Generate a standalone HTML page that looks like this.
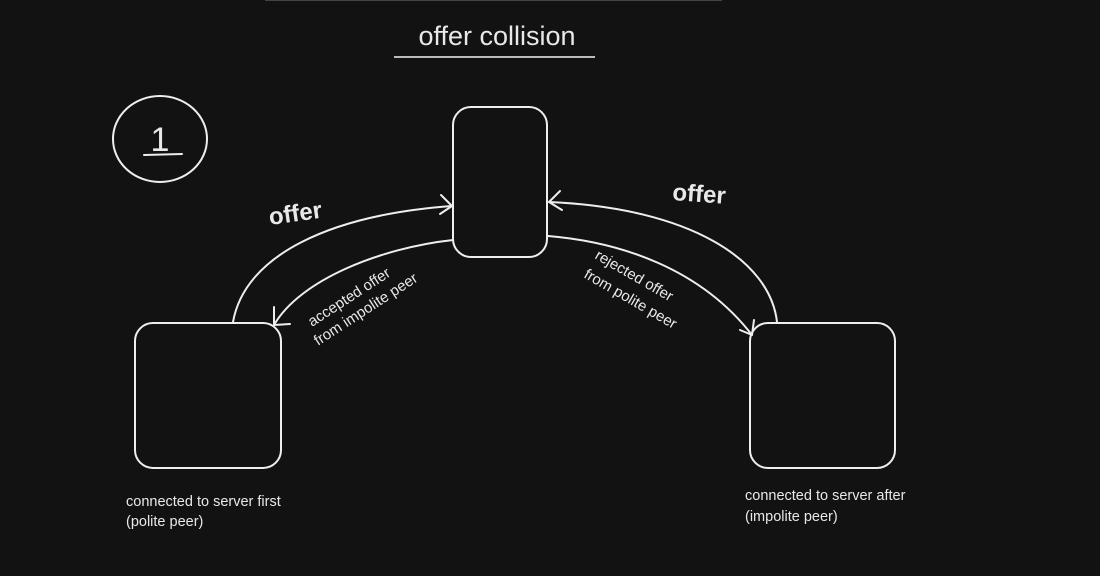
<!DOCTYPE html>
<html><head><style>
html,body{margin:0;padding:0;background:#121212;}
svg{display:block;}
text{font-family:"Liberation Sans",sans-serif;fill:#e8e8e8;}
</style></head><body>
<svg width="1100" height="576" viewBox="0 0 1100 576" xmlns="http://www.w3.org/2000/svg">
<rect width="1100" height="576" fill="#121212"/>
<line x1="265" y1="0.5" x2="722" y2="0.5" stroke="#444" stroke-width="1"/>
<text x="497" y="45" font-size="27" text-anchor="middle" fill="#eee">offer collision</text>
<line x1="394" y1="57" x2="595" y2="57" stroke="#bbb" stroke-width="2"/>
<g fill="none" stroke="#eee" stroke-width="2" stroke-linecap="round" stroke-linejoin="round">
<ellipse cx="160" cy="139" rx="47" ry="43"/>
<rect x="453" y="107" width="94" height="150" rx="18"/>
<rect x="135" y="323" width="146" height="145" rx="18"/>
<rect x="750" y="323" width="145" height="145" rx="18"/>
<path d="M233,322 C245,255 330,215 452,206"/>
<path d="M441,195 L452,206 L440,214"/>
<path d="M453,240 C380,248 300,280 274,325"/>
<path d="M274,307 L274,325 L290,324"/>
<path d="M777,322 C770,260 690,208 549,202"/>
<path d="M560,191 L549,202 L562,210"/>
<path d="M548,236 C620,242 700,268 752,335"/>
<path d="M740,330 L752,335 L754,320"/>
<path d="M144,155 L182,154"/>
</g>
<text x="160" y="151" font-size="34" text-anchor="middle">1</text>
<text x="270" y="225" font-size="24" font-weight="bold" transform="rotate(-8 270 225)">offer</text>
<text x="672" y="200" font-size="24" font-weight="bold" transform="rotate(4 672 200)">offer</text>
<text x="312" y="327" font-size="15" transform="rotate(-33 312 327)">accepted offer</text>
<text x="318" y="346" font-size="15" transform="rotate(-33 318 346)">from impolite peer</text>
<text x="594" y="258" font-size="15" transform="rotate(30 594 258)">rejected offer</text>
<text x="583" y="277" font-size="15" transform="rotate(30 583 277)">from polite peer</text>
<text x="126" y="506" font-size="14.5">connected to server first</text>
<text x="126" y="526" font-size="14.5">(polite peer)</text>
<text x="745" y="500" font-size="14.5">connected to server after</text>
<text x="745" y="521" font-size="14.5">(impolite peer)</text>
</svg>
</body></html>
